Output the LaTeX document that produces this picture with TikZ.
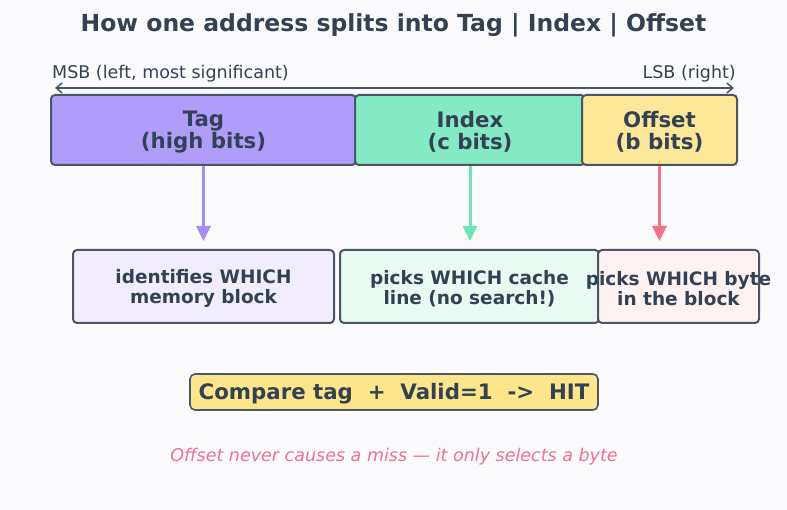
\documentclass[tikz,border=0pt]{standalone}
\usepackage{fontspec}
\setmainfont{DejaVu Sans}
\usetikzlibrary{arrows.meta}
\definecolor{bg}{HTML}{FBFBFE}
\definecolor{ink}{HTML}{334155}
\definecolor{edge}{HTML}{4B5563}
\definecolor{tagc}{HTML}{B09CF9}
\definecolor{idxc}{HTML}{84EAC4}
\definecolor{offc}{HTML}{FDE799}
\definecolor{taga}{HTML}{A78BFA}
\definecolor{idxa}{HTML}{6EE7B7}
\definecolor{offa}{HTML}{F4728A}
\definecolor{tagl}{HTML}{F1EDFD}
\definecolor{idxl}{HTML}{E8FAF1}
\definecolor{offl}{HTML}{FEF2F3}
\definecolor{cmpc}{HTML}{FDE68A}
\definecolor{note}{HTML}{F07090}
\begin{document}
\begin{tikzpicture}[x=1pt,y=-1pt,
  field/.style={draw=edge, line width=2pt, rounded corners=4pt, inner sep=0pt, minimum height=70pt},
  fieldtext/.style={text=ink, align=center, inner sep=0pt, yshift=-2pt,
    font=\fontsize{21.3}{22}\selectfont\bfseries},
  lowbox/.style={draw=edge, line width=2pt, rounded corners=4pt, inner sep=0pt, minimum height=73pt},
  lowtext/.style={text=ink, align=center, inner sep=0pt, yshift=-2pt,
    font=\fontsize{18.5}{20}\selectfont\bfseries},
  downarrow/.style={line width=3pt, -{Triangle[length=15pt,width=14pt]}, shorten >=8pt}
]
\fill[bg] (0,0) rectangle (787,510);
\useasboundingbox (0,0) rectangle (787,510);

\node[text=ink, anchor=base, inner sep=0pt, font=\fontsize{23.5}{26}\selectfont\bfseries] (title) at (393.5,32) {How one address splits into Tag | Index | Offset};

\node[text=ink, anchor=base west, inner sep=0pt, font=\fontsize{17.5}{20}\selectfont] (msb) at (52,78.5) {MSB (left, most significant)};
\node[text=ink, anchor=base east, inner sep=0pt, font=\fontsize{17.5}{20}\selectfont] (lsb) at (736,78.5) {LSB (right)};
\coordinate (aL) at (55,88);
\coordinate (aR) at (734,88);
\draw[edge, line width=1.5pt, {Straight Barb[length=6pt,width=10pt]}-{Straight Barb[length=6pt,width=10pt]}] (aL) -- (aR);

\node[field, fill=tagc, minimum width=305pt] (tag) at (203.5,130) {};
\node[field, fill=idxc, minimum width=230pt] (idx) at (470,130) {};
\node[field, fill=offc, minimum width=155pt] (off) at (659.5,130) {};
\node[fieldtext] (tagt) at (tag.center) {Tag\\(high bits)};
\node[fieldtext] (idxt) at (idx.center) {Index\\(c bits)};
\node[fieldtext] (offt) at (off.center) {Offset\\(b bits)};

\node[lowbox, fill=tagl, minimum width=261pt] (b1) at (203.5,286.5) {};
\node[lowbox, fill=idxl, minimum width=259pt] (b2) at (469.5,286.5) {};
\node[lowbox, fill=offl, minimum width=161pt] (b3) at (678.5,286.5) {};
\node[lowtext] (t1) at (b1.center) {identifies WHICH\\memory block};
\node[lowtext] (t2) at (b2.center) {picks WHICH cache\\line (no search!)};
\node[lowtext] (t3) at (b3.center) {picks WHICH byte\\in the block};

\draw[downarrow, taga] (tag.south) -- (tag.south |- b1.north);
\draw[downarrow, idxa] (idx.south) -- (idx.south |- b2.north);
\draw[downarrow, offa] (off.south) -- (off.south |- b3.north);

\node[draw=edge, line width=1.6pt, rounded corners=5pt, fill=cmpc,
  minimum width=408pt, minimum height=36pt, inner sep=0pt] (cmp) at (394,392) {};
\node[text=ink, inner sep=0pt, yshift=-1.5pt, font=\fontsize{21.3}{24}\selectfont\bfseries] (cmpt) at (cmp.center) {Compare tag\ \ +\ \ Valid=1\ \ ->\ \ HIT};

\node[text=note, anchor=base, inner sep=0pt, font=\fontsize{17.5}{20}\selectfont\itshape] (foot) at (394,461.5) {Offset never causes a miss — it only selects a byte};
\end{tikzpicture}
\end{document}
